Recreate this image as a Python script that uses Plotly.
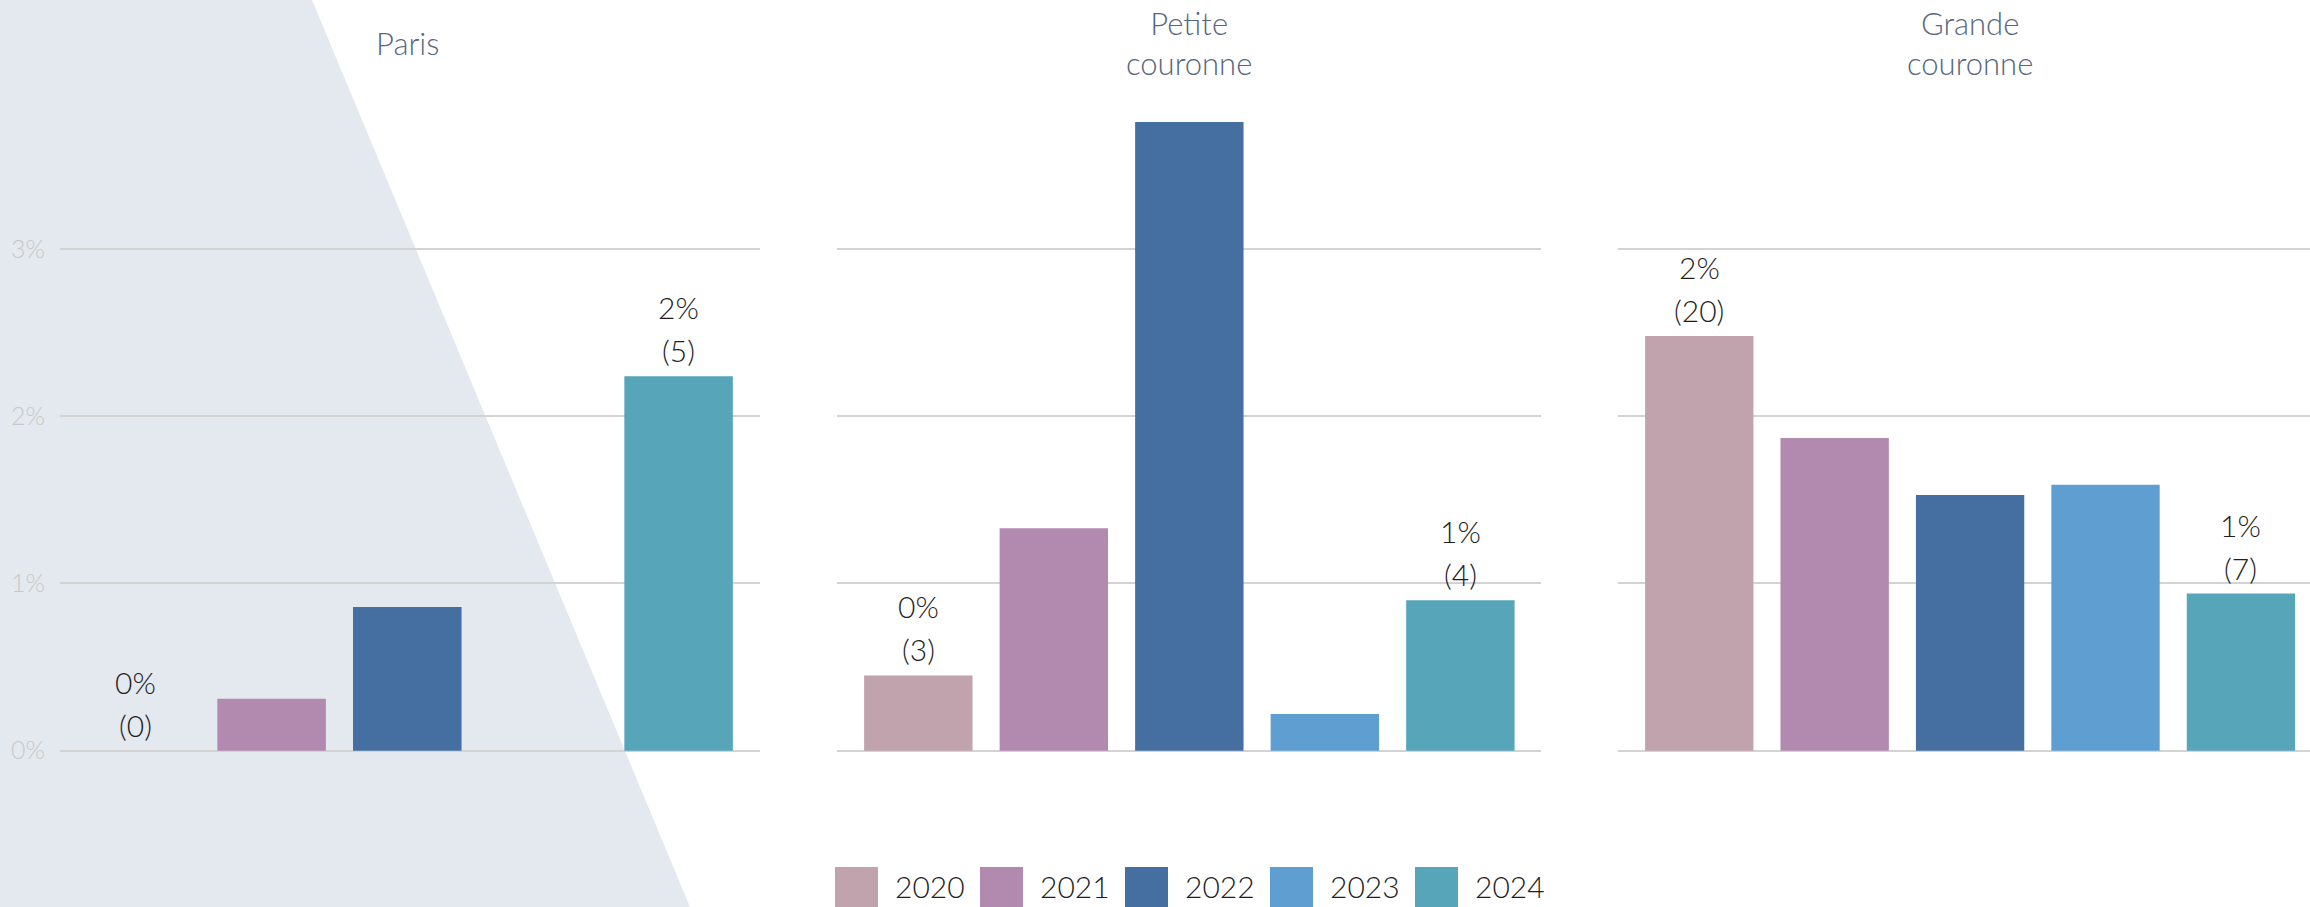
import plotly.graph_objects as go

# ---------------- data ----------------
years = ["2020", "2021", "2022", "2023", "2024"]
colors = ["#c0a3ad", "#b38aaf", "#456fa1", "#5f9ed1", "#57a5b9"]
regions = ["Paris", "Petite<br>couronne", "Grande<br>couronne"]

paris = [0.0, 0.31, 0.86, None, 2.24]
petite = [0.45, 1.33, 3.76, 0.22, 0.90]
grande = [2.48, 1.87, 1.53, 1.59, 0.94]

label_years = ["2020", "2024"]
paris_pct = ["0%", "2%"]
paris_n = [0, 5]
petite_pct = ["0%", "1%"]
petite_n = [3, 4]
grande_pct = ["2%", "1%"]
grande_n = [20, 7]

tick_vals = [0, 1, 2, 3]
tick_text = ["0%", "1%", "2%", "3%"]

# ---------------- layout constants ----------------
W, H = 2310, 907
FONT = "Lato"
domains_px = [(60, 760), (837, 1541), (1618, 2310)]
x_ranges = [[-0.56, 4.60], [-0.60, 4.595], [-0.60, 4.51]]
y_range = [-0.935, 4.49]

series = [paris, petite, grande]
pcts = [paris_pct, petite_pct, grande_pct]
counts = [paris_n, petite_n, grande_n]

fig = go.Figure()
annotations = []
shapes = []

# background diagonal band
shapes.append(dict(
    type="path", xref="paper", yref="paper", layer="below",
    path=f"M 0,1 L {312 / W},1 L {690 / W},0 L 0,0 Z",
    fillcolor="#e4e8ef", line=dict(width=0),
))

for i, (vals, pct, cnt, title) in enumerate(zip(series, pcts, counts, regions)):
    sfx = "" if i == 0 else str(i + 1)
    fig.add_trace(go.Bar(
        x=years, y=vals, marker=dict(color=colors, line=dict(width=0)),
        width=0.8, xaxis="x" + sfx, yaxis="y" + sfx, showlegend=False,
        hoverinfo="x+y",
    ))
    d0, d1 = domains_px[i]
    fig.layout["xaxis" + sfx] = dict(
        domain=[d0 / W, d1 / W], range=x_ranges[i], type="category",
        showticklabels=False, showgrid=False, zeroline=False, showline=False,
        ticks="", anchor="y" + sfx, fixedrange=True,
    )
    fig.layout["yaxis" + sfx] = dict(
        domain=[0, 1], range=y_range, anchor="x" + sfx,
        tickvals=tick_vals, ticktext=tick_text, showticklabels=(i == 0),
        showgrid=True, gridcolor="#d3d3d3", gridwidth=2, zeroline=False,
        showline=False, ticks="", ticklabelstandoff=14, automargin=False,
        tickfont=dict(family=FONT, size=25, color="#c8c8c8", weight=300),
        fixedrange=True,
    )
    # panel title (centred over the middle category)
    annotations.append(dict(
        xref="x" + sfx, yref="paper", x=(len(years) - 1) / 2, y=1 - 43 / H,
        text=title, showarrow=False, yanchor="middle", xanchor="center",
        font=dict(family=FONT, size=31, color="#56677e", weight=300),
    ))
    # value labels
    for yr, p, n in zip(label_years, pct, cnt):
        idx = years.index(yr)
        v = vals[idx] or 0
        annotations.append(dict(
            xref="x" + sfx, yref="y" + sfx, x=idx, y=v, text=p,
            showarrow=False, yanchor="middle", xanchor="center", yshift=69,
            font=dict(family=FONT, size=30, color="#1e1e1e", weight=300),
        ))
        annotations.append(dict(
            xref="x" + sfx, yref="y" + sfx, x=idx, y=v, text=f"({n})",
            showarrow=False, yanchor="middle", xanchor="center", yshift=26,
            font=dict(family=FONT, size=30, color="#1e1e1e", weight=300),
        ))

# custom legend (large square swatches)
leg_x0, leg_step, sw = 835, 145, 43
for k, (yr, c) in enumerate(zip(years, colors)):
    x0 = leg_x0 + k * leg_step
    shapes.append(dict(
        type="rect", xref="paper", yref="paper",
        x0=x0 / W, x1=(x0 + sw) / W, y0=1 - 910 / H, y1=1 - 867 / H,
        fillcolor=c, line=dict(width=0),
    ))
    annotations.append(dict(
        xref="paper", yref="paper", x=(x0 + 58) / W, y=1 - 886 / H,
        text=yr, showarrow=False, xanchor="left", yanchor="middle",
        font=dict(family=FONT, size=30, color="#1e1e1e", weight=300),
    ))

fig.update_layout(
    width=W, height=H, margin=dict(l=0, r=0, t=0, b=0, autoexpand=False),
    paper_bgcolor="white", plot_bgcolor="rgba(0,0,0,0)",
    annotations=annotations, shapes=shapes, showlegend=False,
    font=dict(family=FONT),
)

fig.write_html(
    "out.html",
    config={"displayModeBar": False},
    post_script="document.body.style.margin='0';document.body.style.overflow='hidden';",
)
